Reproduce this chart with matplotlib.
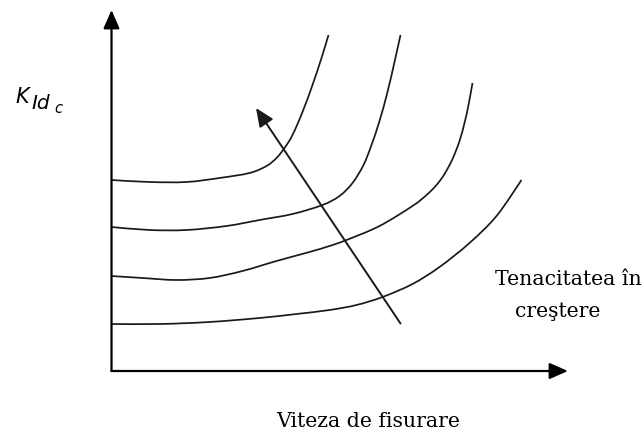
import matplotlib
matplotlib.use("Agg")
import matplotlib.pyplot as plt
from matplotlib.path import Path
from matplotlib.patches import PathPatch

# Curves (toughness increasing from bottom to top), chart units
c1_x = [0, 38, 75, 108, 138, 155, 165, 173, 181, 191, 201, 210, 217]
c1_y = [191, 189, 189, 193, 198, 205, 213, 223, 236, 259, 286, 313, 336]

c2_x = [0, 38, 75, 115, 148, 181, 211, 228, 241, 252, 260, 268, 276, 283, 289]
c2_y = [144, 141, 141, 145, 151, 157, 166, 175, 188, 206, 226, 250, 279, 309, 336]

c3_x = [0, 31, 65, 98, 131, 165, 198, 218, 235, 268, 301, 315, 325, 333, 341, 348, 353, 357, 361]
c3_y = [95, 93, 91, 93, 100, 110, 119, 125, 131, 145, 165, 176, 186, 197, 212, 230, 248, 266, 288]

c4_x = [0, 48, 98, 148, 185, 218, 245, 271, 301, 328, 358, 385, 410]
c4_y = [47, 47, 49, 53, 57, 61, 66, 74, 87, 104, 128, 155, 191]

curves = [(c1_x, c1_y), (c2_x, c2_y), (c3_x, c3_y), (c4_x, c4_y)]

# Trend arrow (tail -> head)
arrow_tail = (289, 47.5)
arrow_head = (144.5, 263)

x_max, y_max = 456.5, 361

xlabel = "Viteza de fisurare"
trend_label_1 = "Tenacitatea în"
trend_label_2 = "creştere"


def smooth_path(xs, ys):
    """Catmull-Rom style cubic path passing through every given point."""
    pts = list(zip(xs, ys))
    n = len(pts)
    verts = [pts[0]]
    codes = [Path.MOVETO]
    for i in range(n - 1):
        p0 = pts[i - 1] if i > 0 else pts[i]
        p1 = pts[i]
        p2 = pts[i + 1]
        p3 = pts[i + 2] if i + 2 < n else pts[i + 1]
        c1 = (p1[0] + (p2[0] - p0[0]) / 6, p1[1] + (p2[1] - p0[1]) / 6)
        c2 = (p2[0] - (p3[0] - p1[0]) / 6, p2[1] - (p3[1] - p1[1]) / 6)
        verts += [c1, c2, p2]
        codes += [Path.CURVE4] * 3
    return Path(verts, codes)


W, H = 644, 432
fig = plt.figure(figsize=(W / 100, H / 100), dpi=100)
ax = fig.add_axes([111.5 / W, (H - 371) / H, (568 - 111.5) / W, (371 - 10) / H])
ax.set_xlim(0, x_max)
ax.set_ylim(0, y_max)
ax.axis("off")

for cx, cy in curves:
    ax.add_patch(PathPatch(smooth_path(cx, cy), fill=False, edgecolor="#1a1a1a",
                           lw=1.25, capstyle="butt"))

axis_arrow = dict(arrowstyle="-|>,head_length=0.8,head_width=0.35", color="black",
                  lw=1.6, mutation_scale=14, shrinkA=0, shrinkB=0)
ax.annotate("", xy=(x_max, 0), xytext=(0, 0), arrowprops=axis_arrow, annotation_clip=False)
ax.annotate("", xy=(0, y_max), xytext=(0, 0), arrowprops=axis_arrow, annotation_clip=False)

trend_arrow = dict(arrowstyle="-|>,head_length=0.8,head_width=0.35", color="#1a1a1a",
                   lw=1.4, mutation_scale=14, shrinkA=0, shrinkB=0)
ax.annotate("", xy=arrow_head, xytext=arrow_tail, arrowprops=trend_arrow)

serif = "DejaVu Serif"
fig.text(568 / W, 1 - 285 / H, trend_label_1, family=serif, fontsize=14.7,
         ha="center", va="baseline")
fig.text(558 / W, 1 - 317 / H, trend_label_2, family=serif, fontsize=14.7,
         ha="center", va="baseline")
fig.text(368 / W, 1 - 427 / H, xlabel, family=serif, fontsize=14.7,
         ha="center", va="baseline")

# K_{Id_c} label composed of three pieces
sans = "DejaVu Sans"
fig.text(15 / W, 1 - 103 / H, "K", family=sans, style="italic", fontsize=15,
         ha="left", va="baseline")
fig.text(31 / W, 1 - 109 / H, "Id", family=sans, style="italic", fontsize=14.5,
         ha="left", va="baseline")
fig.text(54 / W, 1 - 113 / H, "c", family=sans, style="italic", fontsize=10.5,
         ha="left", va="baseline")

fig.savefig("out.png", dpi=100, facecolor="white")
